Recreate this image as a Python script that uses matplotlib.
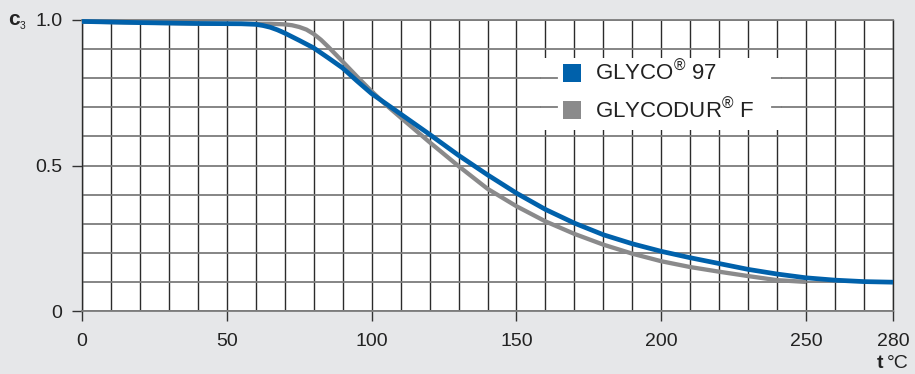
import numpy as np
import matplotlib
matplotlib.use('Agg')
import matplotlib.pyplot as plt
from matplotlib.patches import Rectangle
from matplotlib.lines import Line2D

plt.rcParams['font.family'] = ['Liberation Sans', 'DejaVu Sans']
plt.rcParams['mathtext.fontset'] = 'custom'
plt.rcParams['mathtext.rm'] = 'Liberation Sans'
plt.rcParams['mathtext.bf'] = 'Liberation Sans:bold'

# data
glyco_t = [0, 20, 40, 55, 60, 62.5, 65, 67.5, 70, 75, 80, 85, 90, 95, 100, 110, 120,
           130, 140, 150, 160, 170, 180, 190, 200, 210, 220, 230, 240, 250, 260,
           270, 280]
glyco_c = [0.995, 0.991, 0.988, 0.987, 0.985, 0.981, 0.975, 0.966, 0.955, 0.930,
           0.904, 0.870, 0.835, 0.790, 0.747, 0.677, 0.607, 0.535, 0.468, 0.405,
           0.349, 0.302, 0.262, 0.231, 0.205, 0.183, 0.163, 0.143, 0.127, 0.114,
           0.106, 0.101, 0.099]

glycodur_t = [0, 20, 40, 60, 65, 70, 72.5, 75, 77.5, 80, 82.5, 85, 90, 95, 100, 105,
              110, 120, 130, 140, 150, 160, 170, 180, 190, 200, 210, 220, 230, 240,
              250]
glycodur_c = [0.995, 0.991, 0.988, 0.987, 0.987, 0.985, 0.982, 0.976, 0.967, 0.952,
              0.932, 0.908, 0.857, 0.805, 0.755, 0.708, 0.665, 0.580, 0.498, 0.420,
              0.360, 0.308, 0.265, 0.228, 0.197, 0.171, 0.151, 0.135, 0.120, 0.106,
              0.100]

series_labels = ['GLYCO$^{®}$ 97', 'GLYCODUR$^{®}$ F']
x_ticks = [0, 50, 100, 150, 200, 250, 280]
y_ticks = [0, 0.5, 1.0]
y_ticklabels = ['0', '0.5', '1.0']

BLUE = '#0061ab'
GREY = '#8a8a8b'
BG = '#e6e7e9'
VGRID = '#2b2b2b'
HGRID = '#7c7c7c'
TXT = '#222222'

W, H = 915, 374
fig = plt.figure(figsize=(W / 100, H / 100), dpi=100, facecolor=BG)
ax = fig.add_axes([82 / W, 63 / H, 811 / W, 291 / H])
ax.set_facecolor('white')

ax.set_xlim(0, 280)
ax.set_ylim(0, 1)

ax.set_xticks(x_ticks)
ax.set_xticks(np.arange(0, 281, 10), minor=True)
ax.set_yticks(y_ticks)
ax.set_yticklabels(y_ticklabels)
ax.set_yticks(np.arange(0, 1.01, 0.1), minor=True)

ax.grid(which='both', axis='x', color=VGRID, lw=1.0)
ax.grid(which='both', axis='y', color=HGRID, lw=1.3)

ax.tick_params(which='major', direction='out', length=7, width=1.0, color='#333333',
               labelsize=14, labelcolor=TXT)
ax.tick_params(axis='x', which='major', pad=9)
ax.tick_params(axis='y', which='major', pad=7)
ax.tick_params(which='minor', length=0)

for side in ['left', 'right']:
    ax.spines[side].set_color(VGRID)
    ax.spines[side].set_linewidth(1.0)
for side in ['top', 'bottom']:
    ax.spines[side].set_color(HGRID)
    ax.spines[side].set_linewidth(1.3)

# white box behind the legend, with grid stubs poking in
ax.add_patch(Rectangle((158.5, 0.622), 83, 0.248, facecolor='white',
                       edgecolor='none', zorder=2))
for yy in [0.7, 0.8]:
    ax.plot([158.5, 164], [yy, yy], color=HGRID, lw=1.3, zorder=2.1)
    ax.plot([238.3, 241.5], [yy, yy], color=HGRID, lw=1.3, zorder=2.1)

ax.plot(glycodur_t, glycodur_c, color=GREY, lw=3.1, solid_joinstyle='round',
        solid_capstyle='butt', zorder=3, clip_on=False)
ax.plot(glyco_t, glyco_c, color=BLUE, lw=3.4, solid_joinstyle='round',
        solid_capstyle='butt', zorder=4, clip_on=False)

handles = [Line2D([], [], ls='none', marker='s', markersize=13, color=c,
                  markeredgewidth=0) for c in [BLUE, GREY]]
ax.legend(handles, series_labels, loc='center left',
          bbox_to_anchor=(0.592, 0.7526), frameon=False, fontsize=16,
          borderpad=0, borderaxespad=0, handlelength=0.875, handletextpad=0.6,
          labelspacing=0.6, labelcolor=TXT)

# axis labels
fig.text(8 / W, 1 - 25 / H, 'c', fontsize=15, fontweight='bold', color=TXT,
         va='baseline', ha='left')
fig.text(20 / W, 1 - 29 / H, '3', fontsize=7.5, color=TXT,
         va='baseline', ha='left')
fig.text(877 / W, 1 - 368 / H, 't', fontsize=14, fontweight='bold',
         color=TXT, va='baseline', ha='left')
fig.text(887 / W, 1 - 368 / H, '°C', fontsize=14, color=TXT,
         va='baseline', ha='left')

fig.savefig('out.png', dpi=100, facecolor=BG)
